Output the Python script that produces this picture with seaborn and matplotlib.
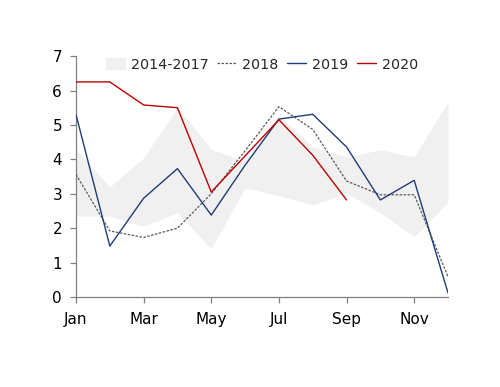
import numpy as np
import pandas as pd
import matplotlib
matplotlib.use("Agg")
import matplotlib.pyplot as plt
import seaborn as sns
from matplotlib.patches import Patch
from matplotlib.lines import Line2D

months = ["Jan", "Feb", "Mar", "Apr", "May", "Jun",
          "Jul", "Aug", "Sep", "Oct", "Nov", "Dec"]
band_low = [2.35, 2.35, 2.05, 2.45, 1.4, 3.17, 2.95, 2.67, 3.02, 2.45, 1.75, 2.75]
band_high = [4.3, 3.2, 4.05, 5.5, 4.3, 3.93, 5.28, 4.36, 4.07, 4.28, 4.07, 5.67]
y2018 = [3.56, 1.92, 1.73, 2.0, 3.0, 4.25, 5.53, 4.87, 3.37, 2.97, 2.97, 0.59]
y2019 = [5.3, 1.48, 2.87, 3.73, 2.38, 3.83, 5.17, 5.31, 4.36, 2.82, 3.39, 0.12]
y2020 = [6.25, 6.25, 5.58, 5.5, 3.05, 4.1, 5.15, 4.12, 2.82]

sns.set_style("ticks")
plt.rcParams["font.family"] = ["DejaVu Sans"]

fig = plt.figure(figsize=(5, 3.87), dpi=100)
ax = fig.add_axes([0.152, 0.2326, 0.744, 0.6224])

x = np.arange(len(months))
ax.fill_between(x, band_low, band_high, color="#f0f0f0", lw=0, zorder=1)

df18 = pd.DataFrame({"m": x, "v": y2018})
df19 = pd.DataFrame({"m": x, "v": y2019})
df20 = pd.DataFrame({"m": x[:len(y2020)], "v": y2020})
dash = (0, (2, 1.2))
sns.lineplot(data=df18, x="m", y="v", ax=ax, color="#595959", lw=0.9,
             linestyle=dash, zorder=3)
sns.lineplot(data=df19, x="m", y="v", ax=ax, color="#1f3c7a", lw=1.0, zorder=4)
sns.lineplot(data=df20, x="m", y="v", ax=ax, color="#c00000", lw=1.0, zorder=5)

ax.set_xlim(0, 11)
ax.set_ylim(0, 7)
ax.set_xticks(x[::2])
ax.set_xticklabels(months[::2])
ax.set_yticks(range(8))
ax.set_xlabel("")
ax.set_ylabel("")
for s in ["top", "right"]:
    ax.spines[s].set_visible(False)
for s in ["left", "bottom"]:
    ax.spines[s].set_color("#808080")
    ax.spines[s].set_linewidth(0.9)
ax.tick_params(colors="#808080", labelcolor="black", labelsize=11,
               length=4, width=0.9)
ax.tick_params(axis="x", pad=7)
ax.tick_params(axis="y", pad=6)

handles = [Patch(color="#f0f0f0", label="2014-2017"),
           Line2D([], [], color="#595959", lw=0.9, linestyle=dash, label="2018"),
           Line2D([], [], color="#1f3c7a", lw=1.0, label="2019"),
           Line2D([], [], color="#c00000", lw=1.0, label="2020")]
ax.legend(handles=handles, loc="upper center", bbox_to_anchor=(0.5, 1.035),
          ncol=4, frameon=False, fontsize=10.3, handlelength=1.35,
          handleheight=0.8, handletextpad=0.4, columnspacing=0.6,
          borderpad=0.2)

fig.savefig("out.png", dpi=100)
